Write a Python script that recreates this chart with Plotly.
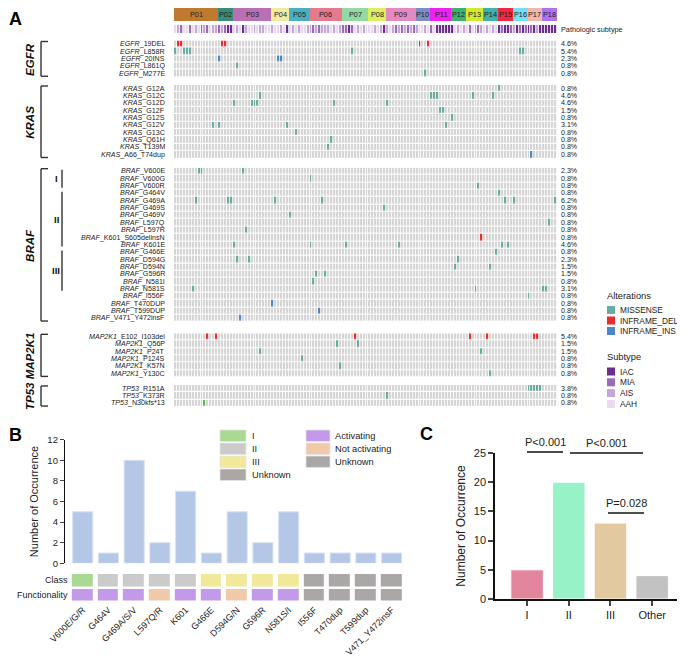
import plotly.graph_objects as go

# the page body keeps the browser's 8 px margin, so the figure is drawn
# 8 px smaller and every reference pixel position is shifted by that margin
PAGE_MARGIN = 8
W, H = 685 - PAGE_MARGIN, 663 - PAGE_MARGIN
FONT = "Liberation Sans, Arial, sans-serif"


def px(x):
    return min(1.0, max(0.0, (x - PAGE_MARGIN) / W))


def py(y):
    return min(1.0, max(0.0, 1 - (y - PAGE_MARGIN) / H))


def discrete_scale(colors):
    n = len(colors)
    scale = []
    for i, c in enumerate(colors):
        scale.append([i / n, c])
        scale.append([(i + 1) / n, c])
    return scale


# ---------------- data: panel A ----------------
n_samples = 130
patients = ["P01", "P02", "P03", "P04", "P05", "P06", "P07", "P08", "P09",
            "P10", "P11", "P12", "P13", "P14", "P15", "P16", "P17", "P18"]
patient_sizes = [15, 5, 13, 6, 7, 11, 9, 6, 10, 5, 7, 5, 6, 5, 5, 5, 5, 5]
patient_colors = ["#C07A30", "#3A8C78", "#B86FB3", "#F2EAA2", "#4AAFC0", "#E57A8E",
                  "#94D9A4", "#DDEE62", "#E58AC0", "#7C8CC8", "#EE22EE", "#40B070",
                  "#D2E834", "#42B0A8", "#F02840", "#74E0F8", "#F0B8A8", "#B070F0"]

subtypes = ["IAC", "MIA", "AIS", "AAH"]
subtype_colors = ["#6B2D90", "#9A6BB8", "#C5A6D8", "#E9DAEF"]
# one letter per sample: I=IAC, M=MIA, S=AIS, H=AAH
subtype_str = ("HSMHHMHSHM" "SMHSSMSMII" "HSHISHHSHS" "SHHSHHSHIH" "SHSHHSSMSM"
               "SSSHSHSMMI" "MHSHSHHHSH" "SISHSMSMSM" "SMSHHSHMHI" "IIIIIHSHSH"
               "MHSMSHSHSH" "IMIIMSIMIM" "IMISIIIIII")
subtype_letter = {"I": "IAC", "M": "MIA", "S": "AIS", "H": "AAH"}

alt_types = ["MISSENSE", "INFRAME_DEL", "INFRAME_INS", "FRAMESHIFT"]
alt_colors = ["#D5D5D5", "#6BAA9E", "#EE2A2A", "#4D88C4", "#5DBB4F"]

egfr_rows = [
    ("19DEL", "INFRAME_DEL", [1, 2, 16, 17, 83, 86]),
    ("L858R", "MISSENSE", [0, 3, 4, 5, 60, 117, 118]),
    ("20INS", "INFRAME_INS", [15, 35, 36]),
    ("L861Q", "MISSENSE", [21]),
    ("M277E", "MISSENSE", [85]),
]
kras_rows = [
    ("G12A", "MISSENSE", [110]),
    ("G12C", "MISSENSE", [29, 87, 88, 89, 101, 108]),
    ("G12D", "MISSENSE", [20, 26, 27, 28, 54, 72]),
    ("G12F", "MISSENSE", [90, 91]),
    ("G12S", "MISSENSE", [94]),
    ("G12V", "MISSENSE", [13, 15, 38, 92]),
    ("G13C", "MISSENSE", [41]),
    ("Q61H", "MISSENSE", [53]),
    ("T139M", "MISSENSE", [52]),
    ("A66_T74dup", "INFRAME_INS", [121]),
]
braf_rows = [
    ("V600E", "MISSENSE", [8, 9, 23]),
    ("V600G", "MISSENSE", [46]),
    ("V600R", "MISSENSE", [103]),
    ("G464V", "MISSENSE", [110]),
    ("G469A", "MISSENSE", [7, 18, 19, 34, 50, 112, 115, 129]),
    ("G469S", "MISSENSE", [71]),
    ("G469V", "MISSENSE", [39]),
    ("L597Q", "MISSENSE", [127]),
    ("L597R", "MISSENSE", [24]),
    ("K601_S605delinsN", "INFRAME_DEL", [104]),
    ("K601E", "MISSENSE", [20, 46, 58, 76, 111, 113]),
    ("G466E", "MISSENSE", [109]),
    ("D594G", "MISSENSE", [21, 25, 96]),
    ("D594N", "MISSENSE", [95, 107]),
    ("G596R", "MISSENSE", [48, 51]),
    ("N581I", "MISSENSE", [47]),
    ("N581S", "MISSENSE", [6, 102, 125, 126]),
    ("I556F", "MISSENSE", [120]),
    ("T470DUP", "INFRAME_INS", [33]),
    ("T599DUP", "INFRAME_INS", [49]),
    ("V471_Y472insF", "INFRAME_INS", [22]),
]
braf_class = ["I", "I", "I", "II", "II", "II", "II", "II", "II", "II", "II",
              "III", "III", "III", "III", "III", "III", "", "", "", ""]
map2k1_rows = [
    ("E102_I103del", "INFRAME_DEL", [11, 14, 61, 100, 106, 122, 123]),
    ("Q56P", "MISSENSE", [55, 62]),
    ("P24T", "MISSENSE", [29, 104]),
    ("P124S", "MISSENSE", [43]),
    ("K57N", "MISSENSE", [56]),
    ("Y130C", "MISSENSE", [107]),
]
tp53_rows = [
    ("R151A", "MISSENSE", [120, 121, 122, 123, 124]),
    ("K373R", "MISSENSE", [72]),
    ("N30kfs*13", "FRAMESHIFT", [10]),
]

# ---------------- data: panel B ----------------
b_labels = ["V600E/G/R", "G464V", "G469A/S/V", "L597Q/R", "K601", "G466E", "D594G/N",
            "G596R", "N581S/I", "I556F", "T470dup", "T599dup", "V471_Y472insF"]
b_counts = [5, 1, 10, 2, 7, 1, 5, 2, 5, 1, 1, 1, 1]
b_class = ["I", "II", "II", "II", "II", "III", "III", "III", "III",
           "Unknown", "Unknown", "Unknown", "Unknown"]
b_func = ["Activating", "Activating", "Activating", "Not activating", "Activating",
          "Activating", "Not activating", "Activating", "Activating",
          "Unknown", "Unknown", "Unknown", "Unknown"]
class_names = ["I", "II", "III", "Unknown"]
class_colors = ["#A9D992", "#CBCBCB", "#F1E89A", "#ABA7A7"]
func_names = ["Activating", "Not activating", "Unknown"]
func_colors = ["#C39AE9", "#F0C9A9", "#ABA7A7"]

# ---------------- data: panel C ----------------
c_labels = ["I", "II", "III", "Other"]
c_counts = [5, 20, 13, 4]
c_colors = ["#E2859D", "#98F2C8", "#E2C9A0", "#C2C2C2"]

fig = go.Figure()
layout = dict(width=W, height=H, margin=dict(l=0, r=0, t=0, b=0, autoexpand=False),
              paper_bgcolor="white", plot_bgcolor="white",
              font=dict(family=FONT, color="#222"), showlegend=False)
annotations = []
shapes = []


def note(x, y, text, size, xanchor="center", yanchor="middle", **kw):
    d = dict(x=x, y=y, xref="paper", yref="paper", text=text, showarrow=False,
             xanchor=xanchor, yanchor=yanchor, borderpad=0, font=dict(size=size))
    d.update(kw)
    annotations.append(d)


GRID_L, GRID_R = 174, 557
layout["xaxis"] = dict(domain=[px(GRID_L), px(GRID_R)], range=[-0.5, n_samples - 0.5],
                       visible=False, anchor="y")

# patient bar
pat_z = []
for i, n in enumerate(patient_sizes):
    pat_z += [i] * n
fig.add_trace(go.Heatmap(z=[pat_z], xaxis="x", yaxis="y",
                         colorscale=discrete_scale(patient_colors), zmin=-0.5,
                         zmax=len(patients) - 0.5, showscale=False, hoverinfo="skip"))
layout["yaxis"] = dict(domain=[py(21), py(8)], range=[0.5, -0.5], visible=False, anchor="x")
start = 0
for name, n in zip(patients, patient_sizes):
    note(start + n / 2 - 0.5, 0, name, 7.3, xref="x", yref="y")
    start += n

# subtype bar
sub_z = [subtypes.index(subtype_letter[ch]) for ch in subtype_str]
fig.add_trace(go.Heatmap(z=[sub_z], xaxis="x", yaxis="y2", xgap=0.8,
                         colorscale=discrete_scale(subtype_colors), zmin=-0.5,
                         zmax=len(subtypes) - 0.5, showscale=False, hoverinfo="skip"))
layout["yaxis2"] = dict(domain=[py(33), py(25)], range=[0.5, -0.5], visible=False, anchor="x")
note(px(560), py(29), "Pathologic subtype", 7.3, xanchor="left")

# gene groups
RH = 7.35
groups = [("EGFR", egfr_rows, 40.5), ("KRAS", kras_rows, 85), ("BRAF", braf_rows, 167.7),
          ("MAP2K1", map2k1_rows, 333.3), ("TP53", tp53_rows, 385)]
bl = dict(color="#333", width=1.4)
for k, (gene, rows, top) in enumerate(groups):
    ax = k + 3
    n = len(rows)
    bottom = top + n * RH
    z = [[0] * n_samples for _ in rows]
    for r, (mut, kind, cols) in enumerate(rows):
        for c in cols:
            z[r][c] = alt_types.index(kind) + 1
    fig.add_trace(go.Heatmap(z=z, xaxis="x", yaxis=f"y{ax}", xgap=0.8, ygap=1.2,
                             colorscale=discrete_scale(alt_colors), zmin=-0.5,
                             zmax=len(alt_colors) - 0.5, showscale=False, hoverinfo="skip"))
    layout[f"yaxis{ax}"] = dict(domain=[py(bottom), py(top)], range=[n - 0.5, -0.5],
                                visible=False, anchor="x")
    for r, (mut, kind, cols) in enumerate(rows):
        note(px(166), r, f"<i>{gene}</i>_{mut}", 7.1, xanchor="right", yref=f"y{ax}")
        note(px(560), r, f"{100 * len(cols) / n_samples:.1f}%", 7.1, xanchor="left",
             yref=f"y{ax}")
    # bracket + gene label
    shapes.append(dict(type="line", xref="paper", yref="paper", x0=px(41), x1=px(41),
                       y0=py(top + 1), y1=py(bottom - 1), line=bl))
    for yy in (top + 1, bottom - 1):
        shapes.append(dict(type="line", xref="paper", yref="paper", x0=px(41), x1=px(48),
                           y0=py(yy), y1=py(yy), line=bl))
    note(px(30), py((top + bottom) / 2), f"<b><i>{gene}</i></b>", 11.5, textangle=-90,
         font=dict(size=11.5, color="#111"))
    if gene == "BRAF":
        for cls in ["I", "II", "III"]:
            idx = [i for i, c in enumerate(braf_class) if c == cls]
            y0 = top + idx[0] * RH + 2
            y1 = top + (idx[-1] + 1) * RH - 2
            shapes.append(dict(type="line", xref="paper", yref="paper", x0=px(62), x1=px(62),
                               y0=py(y0), y1=py(y1), line=bl))
            note(px(56), py((y0 + y1) / 2), f"<b>{cls}</b>", 9.5,
                 font=dict(size=9.5, color="#111"))

# legend of panel A
note(px(606), py(296), "Alterations", 9.3, xanchor="left")
for i, name in enumerate(alt_types[:3]):
    yc = 310 + i * 10.5
    shapes.append(dict(type="rect", xref="paper", yref="paper", x0=px(607), x1=px(615),
                       y0=py(yc - 4), y1=py(yc + 4), fillcolor=alt_colors[i + 1],
                       line=dict(width=0)))
    note(px(619), py(yc), name, 8.3, xanchor="left")
note(px(606), py(357), "Subtype", 9.3, xanchor="left")
for i, name in enumerate(subtypes):
    yc = 371.5 + i * 10.8
    shapes.append(dict(type="rect", xref="paper", yref="paper", x0=px(607), x1=px(615),
                       y0=py(yc - 4), y1=py(yc + 4), fillcolor=subtype_colors[i],
                       line=dict(width=0)))
    note(px(619), py(yc), name, 8.3, xanchor="left")

# ---------------- panel B ----------------
b_range = [-0.687, 12.52]
fig.add_trace(go.Bar(x=b_labels, y=b_counts, xaxis="x2", yaxis="y8", width=0.78,
                     marker=dict(color="#B4C7E7", line=dict(color="#D8E2F3", width=1)),
                     hoverinfo="skip"))
layout["xaxis2"] = dict(domain=[px(65), px(405)], range=b_range, anchor="y8",
                        showticklabels=False, showline=False, ticks="", showgrid=False)
layout["yaxis8"] = dict(domain=[py(563.3), py(439.7)], range=[0, 12], dtick=2, anchor="x2",
                        showline=True, linecolor="#111", linewidth=1.3, ticks="outside",
                        ticklen=4, tickwidth=1.3, showgrid=False, zeroline=False,
                        showticklabels=True, tickfont=dict(size=9.5, color="#222"),
                        title=dict(text="Number of Occurrence", font=dict(size=11),
                                   standoff=6))
cell_colors = class_colors + func_colors[:2]
class_z = [class_names.index(c) for c in b_class]
func_z = [len(class_names) + func_names.index(f) if f != "Unknown"
          else class_names.index("Unknown") for f in b_func]
fig.add_trace(go.Heatmap(z=[class_z, func_z], x=b_labels, y=[0, 1], xaxis="x3", yaxis="y9",
                         xgap=5, ygap=2.5, colorscale=discrete_scale(cell_colors),
                         zmin=-0.5, zmax=len(cell_colors) - 0.5, showscale=False,
                         hoverinfo="skip"))
layout["xaxis3"] = dict(domain=[px(65), px(405)], range=b_range, anchor="y9",
                        tickangle=-45, ticks="", showline=False, showgrid=False,
                        tickfont=dict(size=9))
layout["yaxis9"] = dict(domain=[py(602), py(573)], range=[1.5, -0.5], visible=False,
                        anchor="x3")
for r, lab in enumerate(["Class", "Functionality"]):
    note(px(69), r, lab, 9, xanchor="right", yref="y9")

# legend of panel B
for i, name in enumerate(class_names):
    y0 = 430 + i * 13
    shapes.append(dict(type="rect", xref="paper", yref="paper", x0=px(220), x1=px(246),
                       y0=py(y0), y1=py(y0 + 11.5), fillcolor=class_colors[i],
                       line=dict(color="#E4E4E4", width=0.8)))
    note(px(251), py(y0 + 5.8), name, 9.3, xanchor="left")
for i, name in enumerate(func_names):
    y0 = 430 + i * 13
    shapes.append(dict(type="rect", xref="paper", yref="paper", x0=px(306), x1=px(330),
                       y0=py(y0), y1=py(y0 + 11.5), fillcolor=func_colors[i],
                       line=dict(color="#E4E4E4", width=0.8)))
    note(px(334), py(y0 + 5.8), name, 9.3, xanchor="left")

# ---------------- panel C ----------------
fig.add_trace(go.Bar(x=c_labels, y=c_counts, xaxis="x4", yaxis="y10", width=0.78,
                     marker=dict(color=c_colors, line=dict(color="white", width=1)),
                     hoverinfo="skip"))
layout["xaxis4"] = dict(domain=[px(495), px(678)], range=[-0.77, 3.62], anchor="y10",
                        showline=True, linecolor="#111", linewidth=1.5, ticks="outside",
                        ticklen=5, tickwidth=1.5, showgrid=False, tickfont=dict(size=11))
layout["yaxis10"] = dict(domain=[py(599), py(453)], range=[0, 25], dtick=5, anchor="x4",
                         showline=True, linecolor="#111", linewidth=1.5, ticks="outside",
                         ticklen=5, tickwidth=1.5, showgrid=False, zeroline=False,
                         tickfont=dict(size=11),
                         title=dict(text="Number of Occurrence", font=dict(size=12),
                                    standoff=6))
for text, x0, x1, yl in [("P<0.001", 527, 563, 452), ("P<0.001", 570, 643, 453),
                         ("P=0.028", 608, 644, 513)]:
    shapes.append(dict(type="line", xref="paper", yref="paper", x0=px(x0), x1=px(x1),
                       y0=py(yl), y1=py(yl), line=dict(color="#111", width=1.5)))
    note(px((x0 + x1) / 2), py(yl - 3), text, 11, yanchor="bottom")

# panel letters
for letter, x, y in [("A", 8, 8), ("B", 8, 424), ("C", 419, 423)]:
    note(px(x), py(y), f"<b>{letter}</b>", 18, xanchor="left", yanchor="top",
         font=dict(size=18, color="#000"))

layout["annotations"] = annotations
layout["shapes"] = shapes
fig.update_layout(**layout)
fig.write_html("out.html")
